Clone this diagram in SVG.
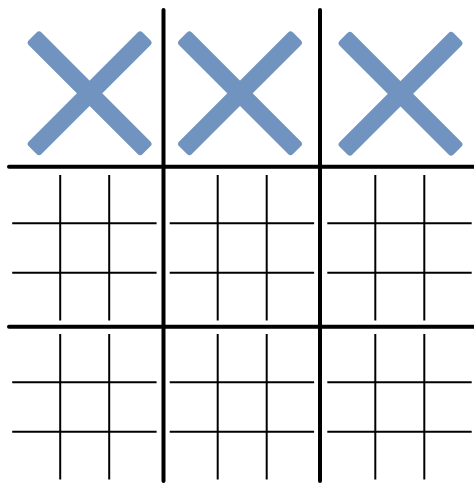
<svg xmlns="http://www.w3.org/2000/svg" width="474" height="485" viewBox="0 0 474 485">
  <style>
    .thick { stroke: #000; stroke-width: 4; stroke-linecap: round; fill: none; }
    .thin { stroke: #000; stroke-width: 2; fill: none; }
    .xarm { fill: #7093bf; }
  </style>
  <defs>
    <g id="xmark">
      <rect class="xarm" x="-80.5" y="-9" width="161" height="18" rx="3.5" transform="rotate(45)"/>
      <rect class="xarm" x="-80.5" y="-9" width="161" height="18" rx="3.5" transform="rotate(-45)"/>
    </g>
    <g id="mini">
      <line class="thin" x1="48" y1="0" x2="48" y2="145.5"/>
      <line class="thin" x1="97" y1="0" x2="97" y2="145.5"/>
      <line class="thin" x1="0" y1="48.3" x2="144.4" y2="48.3"/>
      <line class="thin" x1="0" y1="97.7" x2="144.4" y2="97.7"/>
    </g>
  </defs>
  <rect width="474" height="485" fill="#fff"/>
  <g id="board">
    <line class="thick" x1="163.5" y1="10" x2="163.5" y2="481"/>
    <line class="thick" x1="320" y1="10" x2="320" y2="481"/>
    <line class="thick" x1="9" y1="166.7" x2="476" y2="166.7"/>
    <line class="thick" x1="9" y1="326.7" x2="476" y2="326.7"/>
  </g>
  <g id="x1"><use href="#xmark" transform="translate(89.6,93.3)"/></g>
  <g id="x2"><use href="#xmark" transform="translate(240,93.3)"/></g>
  <g id="x3"><use href="#xmark" transform="translate(400.5,93.8)"/></g>
  <g id="cell-1-0"><use href="#mini" transform="translate(12.2,175)"/></g>
  <g id="cell-1-1"><use href="#mini" transform="translate(169.7,175)"/></g>
  <g id="cell-1-2"><use href="#mini" transform="translate(327.3,175)"/></g>
  <g id="cell-2-0"><use href="#mini" transform="translate(12.2,334)"/></g>
  <g id="cell-2-1"><use href="#mini" transform="translate(169.7,334)"/></g>
  <g id="cell-2-2"><use href="#mini" transform="translate(327.3,334)"/></g>
</svg>
